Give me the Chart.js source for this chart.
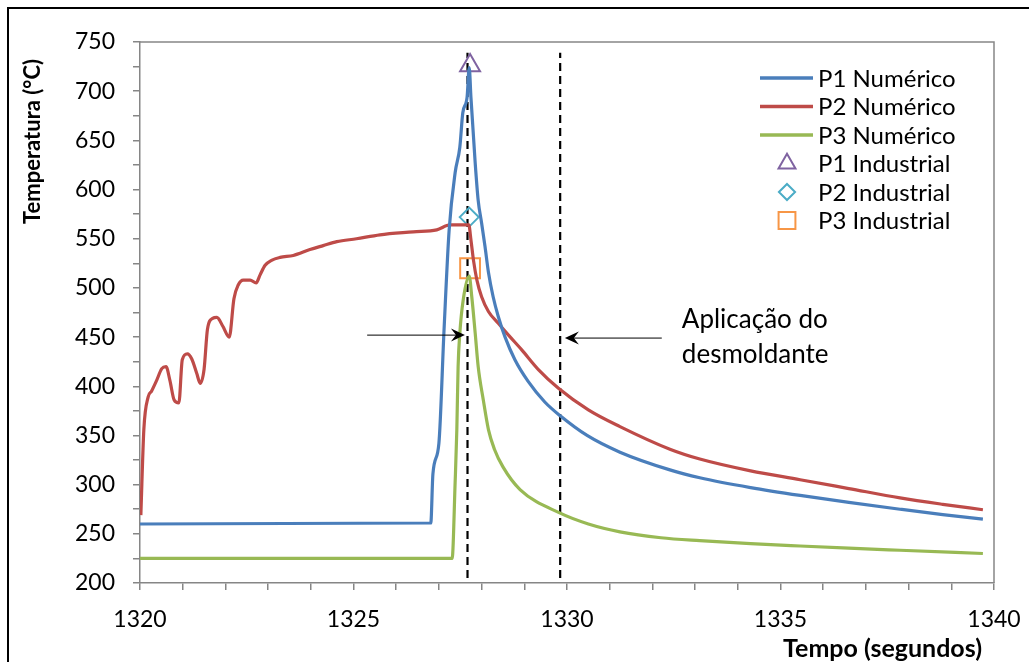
<!DOCTYPE html>
<html>
<head>
<meta charset="utf-8">
<script src="https://cdn.jsdelivr.net/npm/chart.js@4.4.1/dist/chart.umd.min.js"></script>
<style>
  html, body { margin: 0; padding: 0; background: #fff; }
  #wrap { width: 1029px; height: 662px; }
</style>
</head>
<body>
<div id="wrap"><canvas id="tempChart" width="1029" height="662"></canvas></div>
<script>
// ===== data (tempo in s, temperatura in °C)

const p1Time = [1320, 1326.81, 1326.86, 1327.00, 1327.12, 1327.24, 1327.38, 1327.49, 1327.56, 1327.66, 1327.71,
                1327.75, 1327.85, 1327.92, 1328.00, 1328.08, 1328.16, 1328.27, 1328.39, 1328.55, 1328.78,
                1329.09, 1329.48, 1329.84, 1330.47, 1331.24, 1332.41, 1333.11, 1334.3, 1335.46, 1336.6,
                1337.8, 1338.8, 1339.74];
const p1Temp = [260, 261, 311, 342, 457, 559, 617, 643, 678, 694, 724,
                694, 627, 589, 566, 542, 516, 491, 471, 450, 427,
                405, 384, 370, 350, 333, 315, 307, 297, 289, 282,
                275, 269.5, 265];

const p2Time = [1320.02, 1320.09, 1320.19, 1320.27, 1320.39, 1320.51, 1320.61, 1320.70, 1320.80, 1320.91,
                1320.99, 1321.11, 1321.21, 1321.33, 1321.41, 1321.50, 1321.58, 1321.70, 1321.80, 1321.94,
                1322.09, 1322.20, 1322.30, 1322.42, 1322.58, 1322.72, 1322.81, 1322.93, 1323.08, 1323.28,
                1323.59, 1323.98, 1324.29, 1324.61, 1325.07, 1325.62, 1326.40, 1326.95, 1327.26, 1327.70,
                1327.75, 1327.81, 1327.89, 1328.00, 1328.16, 1328.39, 1328.63, 1328.94, 1329.33, 1329.80,
                1330.5, 1331.24, 1332.41, 1333.11, 1334.3, 1335.46, 1336.6, 1337.8, 1338.8, 1339.74];
const p2Temp = [269, 356, 389, 395, 406, 418, 420, 406, 386, 383,
                427, 433, 428, 413, 403, 417, 458, 469, 470, 461,
                450, 489, 503, 508, 508, 505, 513, 523, 528, 531,
                533, 539, 543, 547, 550, 554, 557, 559, 564, 564,
                549, 528, 508, 491, 476, 464, 452, 437, 417, 398,
                376, 359, 336, 326, 314, 305, 296, 286.5, 280, 274.5];

const p3Time = [1320, 1327.31, 1327.38, 1327.42, 1327.45, 1327.49, 1327.57, 1327.71, 1327.77, 1327.85,
                1327.92, 1328.04, 1328.16, 1328.30, 1328.50, 1328.90, 1329.84, 1330.5, 1331.24, 1332.2,
                1333.11, 1334.3, 1335.46, 1336.6, 1337.8, 1339.74];
const p3Temp = [225, 225, 302, 356, 420, 454, 488, 512, 491, 454,
                420, 386, 356, 336, 318, 295, 271, 260, 252, 246,
                243, 240, 237.6, 235.4, 233.3, 230];

// industrial measurements P1, P2, P3
const indTime = [1327.73, 1327.71, 1327.73];
const indTemp = [726, 572, 520];

// dashed markers + arrows + note
const dashTime = [1327.67, 1329.84];
const dashRange = [205, 739];
const arrowTail = [[1325.32, 452], [1332.22, 449]];
const arrowTip = [[1327.61, 452], [1329.95, 449]];
const noteLines = ['Aplicação do', 'desmoldante'];
const noteAt = [1332.69, 459];

const xTitle = 'Tempo (segundos)';
const yTitle = 'Temperatura (°C)';

const pts = (xs, ys) => xs.map((x, i) => ({ x: x, y: ys[i] }));

const FONT = 'Lato, "Open Sans", sans-serif';
const GREY = '#868686';

function numSeries(label, xs, ys, color) {
  return {
    label: label,
    data: pts(xs, ys),
    borderColor: color,
    backgroundColor: color,
    borderWidth: 3.2,
    pointRadius: 0,
    cubicInterpolationMode: 'monotone',
    fill: false
  };
}

function indSeries(label, i, style, r, color) {
  return {
    label: label,
    data: [{ x: indTime[i], y: indTemp[i] }],
    showLine: false,
    pointStyle: style,
    pointRadius: r,
    pointBorderWidth: 2,
    pointBorderColor: color,
    pointBackgroundColor: 'rgba(0,0,0,0)',
    borderColor: color,
    backgroundColor: 'rgba(0,0,0,0)'
  };
}

function dashLine(t) {
  return {
    label: '',
    data: [{ x: t, y: dashRange[0] }, { x: t, y: dashRange[1] }],
    borderColor: '#000',
    borderWidth: 2.2,
    borderDash: [8, 5],
    pointRadius: 0
  };
}

function arrow(ctx, x0, y0, x1, y1) {
  const ang = Math.atan2(y1 - y0, x1 - x0);
  const ux = Math.cos(ang), uy = Math.sin(ang);
  ctx.beginPath();
  ctx.moveTo(x0, y0);
  ctx.lineTo(x1 - ux * 8, y1 - uy * 8);
  ctx.stroke();
  ctx.beginPath();
  ctx.moveTo(x1, y1);
  ctx.lineTo(x1 - ux * 14 - uy * 6.5, y1 - uy * 14 + ux * 6.5);
  ctx.lineTo(x1 - ux * 9, y1 - uy * 9);
  ctx.lineTo(x1 - ux * 14 + uy * 6.5, y1 - uy * 14 - ux * 6.5);
  ctx.closePath();
  ctx.fill();
}

const extras = {
  id: 'extras',
  beforeDraw(chart) {
    const ctx = chart.ctx;
    ctx.save();
    ctx.fillStyle = '#fff';
    ctx.fillRect(0, 0, chart.width, chart.height);
    ctx.strokeStyle = '#000';
    ctx.lineWidth = 2;
    ctx.strokeRect(8, 8, chart.width + 20, chart.height + 20);
    ctx.restore();
  },
  beforeDatasetsDraw(chart) {
    const a = chart.chartArea, ctx = chart.ctx;
    ctx.save();
    ctx.strokeStyle = GREY;
    ctx.lineWidth = 1.5;
    ctx.beginPath();
    ctx.moveTo(a.left, a.top);
    ctx.lineTo(a.right, a.top);
    ctx.lineTo(a.right, a.bottom);
    ctx.stroke();
    ctx.restore();
  },
  afterDatasetsDraw(chart) {
    const ctx = chart.ctx, xs = chart.scales.x, ys = chart.scales.y;
    ctx.save();

    // arrows
    ctx.strokeStyle = '#000';
    ctx.fillStyle = '#000';
    ctx.lineWidth = 1;
    arrowTail.forEach((p, i) => {
      arrow(ctx, xs.getPixelForValue(p[0]), ys.getPixelForValue(p[1]),
            xs.getPixelForValue(arrowTip[i][0]), ys.getPixelForValue(arrowTip[i][1]));
    });

    // note
    ctx.font = '26px ' + FONT;
    ctx.textAlign = 'left';
    ctx.textBaseline = 'alphabetic';
    const nx = xs.getPixelForValue(noteAt[0]), ny = ys.getPixelForValue(noteAt[1]);
    noteLines.forEach((s, i) => ctx.fillText(s, nx, ny + i * 35));

    // legend
    ctx.font = '24px ' + FONT;
    chart.data.datasets.filter(d => d.label).forEach((d, i) => {
      const cy = 78 + i * 28.5;
      if (d.showLine === false) {
        ctx.strokeStyle = d.pointBorderColor;
        ctx.fillStyle = 'rgba(0,0,0,0)';
        ctx.lineWidth = 2;
        Chart.helpers.drawPoint(ctx, { pointStyle: d.pointStyle, rotation: 0,
          radius: d.pointRadius * 0.85, borderWidth: 2 }, 787, cy);
      } else {
        ctx.strokeStyle = d.borderColor;
        ctx.lineWidth = 3.5;
        ctx.beginPath();
        ctx.moveTo(760, cy);
        ctx.lineTo(813, cy);
        ctx.stroke();
      }
      ctx.fillStyle = '#000';
      ctx.fillText(d.label, 818, cy + 8.5);
    });

    // axis titles
    ctx.font = 'bold 25px ' + FONT;
    ctx.textAlign = 'right';
    ctx.fillText(xTitle, 982, 657);
    ctx.font = 'bold 22px ' + FONT;
    ctx.translate(40, 59);
    ctx.rotate(-Math.PI / 2);
    ctx.textAlign = 'right';
    ctx.fillText(yTitle, 0, 0);
    ctx.restore();
  }
};

const ctx = document.getElementById('tempChart').getContext('2d');
const tempChart = new Chart(ctx, {
  type: 'line',
  data: {
    datasets: [
      numSeries('P1 Numérico', p1Time, p1Temp, '#4A7EBB'),
      numSeries('P2 Numérico', p2Time, p2Temp, '#BE4B48'),
      numSeries('P3 Numérico', p3Time, p3Temp, '#98B954'),
      indSeries('P1 Industrial', 0, 'triangle', 11.5, '#7F63A1'),
      indSeries('P2 Industrial', 1, 'rectRot', 9.5, '#4BACC6'),
      indSeries('P3 Industrial', 2, 'rect', 14, '#F79646'),
      dashLine(dashTime[0]),
      dashLine(dashTime[1])
    ]
  },
  options: {
    responsive: false,
    animation: false,
    events: [],
    layout: { padding: { left: 0, top: 42, right: 35, bottom: 0 } },
    plugins: {
      legend: { display: false },
      tooltip: { enabled: false }
    },
    scales: {
      x: {
        type: 'linear',
        min: 1320,
        max: 1340,
        afterFit: (s) => { s.height = 79; s.paddingLeft = 0; s.paddingRight = 0; },
        ticks: {
          stepSize: 1,
          autoSkip: false,
          maxRotation: 0,
          padding: 16,
          color: '#000',
          font: { family: FONT, size: 23 },
          callback: (v) => (v % 5 === 0 ? String(v) : '')
        },
        grid: { drawOnChartArea: false, tickLength: 7, color: GREY, lineWidth: 1.5 },
        border: { color: GREY, width: 1.5 }
      },
      y: {
        min: 200,
        max: 750,
        afterFit: (s) => { s.width = 140; s.paddingTop = 0; s.paddingBottom = 0; },
        ticks: {
          stepSize: 25,
          autoSkip: false,
          padding: 18,
          color: '#000',
          font: { family: FONT, size: 23 },
          callback: (v) => (v % 50 === 0 ? String(v) : '')
        },
        grid: { drawOnChartArea: false, tickLength: 7, color: GREY, lineWidth: 1.5 },
        border: { color: GREY, width: 1.5 }
      }
    }
  },
  plugins: [extras]
});
</script>
</body>
</html>
